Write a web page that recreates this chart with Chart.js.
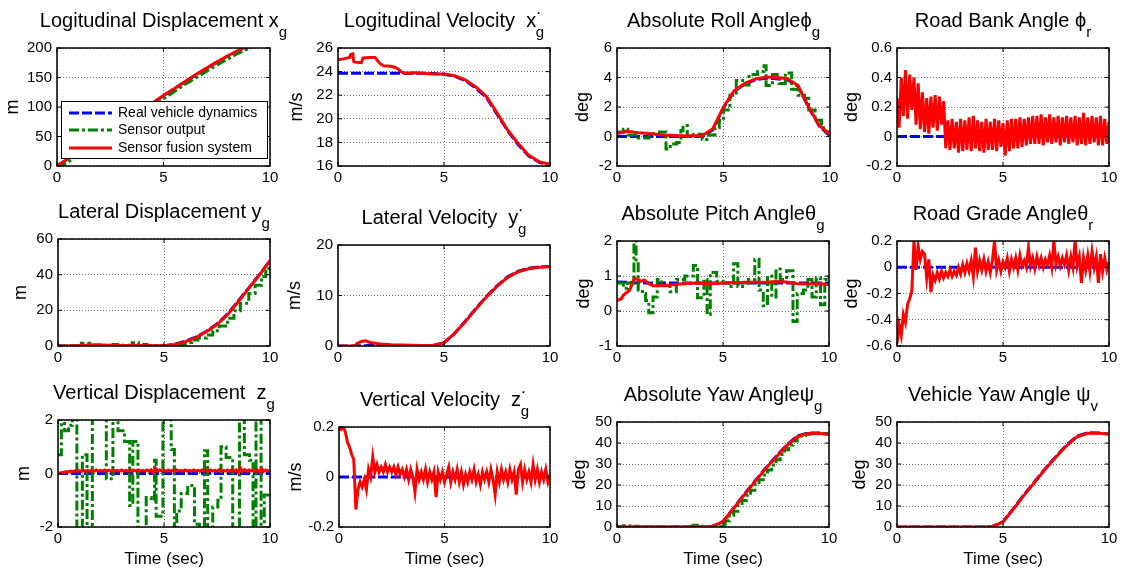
<!DOCTYPE html>
<html>
<head>
<meta charset="utf-8">
<script src="https://cdn.jsdelivr.net/npm/chart.js@4.4.1/dist/chart.umd.min.js"></script>
<style>
body{margin:0;background:#fff;width:1124px;height:574px;overflow:hidden;position:relative;font-family:"Liberation Sans",Arial,sans-serif;color:#000;}
canvas{position:absolute;}
.ttl{position:absolute;font-size:20px;line-height:20px;white-space:pre;transform:translateX(-50%);}
.sb{font-size:15px;position:relative;top:10px;}
.sd{margin-left:-7px;}
#legend{position:absolute;left:61px;top:101px;width:207px;height:58px;box-sizing:border-box;border:1px solid #000;background:#fff;font-size:14px;z-index:5;}
#legend svg{position:absolute;left:0;top:0;}
#legend .it{position:absolute;left:56px;line-height:17px;white-space:nowrap;}
</style>
</head>
<body>

<div id="legend">
<svg width="60" height="56">
<line x1="7" y1="11" x2="50" y2="11" stroke="#0000ff" stroke-width="3" stroke-dasharray="10 3"/>
<line x1="7" y1="28" x2="50" y2="28" stroke="#008000" stroke-width="3" stroke-dasharray="10 3 3 3"/>
<line x1="7" y1="46" x2="50" y2="46" stroke="#ff0000" stroke-width="3"/>
</svg>
<div class="it" style="top:2px">Real vehicle dynamics</div>
<div class="it" style="top:19px">Sensor output</div>
<div class="it" style="top:37px">Sensor fusion system</div>
</div>

<script>
Chart.defaults.animation = false;
Chart.defaults.font.family = '"Liberation Sans", Arial, sans-serif';
Chart.defaults.font.size = 15;
Chart.defaults.color = '#000';

// time bases
const T2 = [0,10];
const T21 = [0,0.5,1,1.5,2,2.5,3,3.5,4,4.5,5,5.5,6,6.5,7,7.5,8,8.5,9,9.5,10];
const T101 = [0,0.1,0.2,0.3,0.4,0.5,0.6,0.7,0.8,0.9,
1,1.1,1.2,1.3,1.4,1.5,1.6,1.7,1.8,1.9,
2,2.1,2.2,2.3,2.4,2.5,2.6,2.7,2.8,2.9,
3,3.1,3.2,3.3,3.4,3.5,3.6,3.7,3.8,3.9,
4,4.1,4.2,4.3,4.4,4.5,4.6,4.7,4.8,4.9,
5,5.1,5.2,5.3,5.4,5.5,5.6,5.7,5.8,5.9,
6,6.1,6.2,6.3,6.4,6.5,6.6,6.7,6.8,6.9,
7,7.1,7.2,7.3,7.4,7.5,7.6,7.7,7.8,7.9,
8,8.1,8.2,8.3,8.4,8.5,8.6,8.7,8.8,8.9,
9,9.1,9.2,9.3,9.4,9.5,9.6,9.7,9.8,9.9,10];

// longitudinal displacement
const xgReal = [0,12,24,36,48,60,71.5,83,95,107,119,131,142.5,154,165,176,186,195,204,212,220];
const xgFusion = [0,12,24,36,48,60,71.5,83.5,95,107,119.5,131,143,154.5,165.5,176,186.5,195.5,204,212,220];
const xgSensor = [-3,6,19,31,43,55,67,78,90,102,114,126,138,149,160,171,181,191,199,208,216];

// longitudinal velocity
const vxReal = [23.85,23.85,23.85,23.85,23.85,23.85,23.85,23.85,23.85,23.83,23.78,23.6,23.25,22.6,21.8,20.4,19.0,17.8,16.85,16.3,16.1];
const vxFusionT = [0,0.3,0.55,0.6,0.7,0.74,0.78,1.1,1.18,1.5,1.75,1.85,2.0,2.15,2.5,2.7,2.85,3.0,3.2,3.6,4,4.4,5,5.5,6,6.5,7,7.5,8,8.5,9,9.5,10];
const vxFusion = [25.0,25.1,25.2,25.45,25.5,24.85,24.8,24.75,25.15,25.2,25.2,24.95,24.65,24.5,24.45,24.35,24.2,23.95,23.85,23.9,23.85,23.8,23.8,23.65,23.3,22.7,21.9,20.5,19.05,17.9,16.9,16.35,16.15];

// absolute roll angle
const rollReal = [0,0,0,0,0,0,0,0,0,0.45,1.95,3.05,3.55,3.85,3.95,3.92,3.85,3.4,1.95,0.7,0.05];
const rollFusion = [0.2,0.35,0.26,0.2,0.12,0.08,0.05,0.05,0.05,0.53,2.0,3.1,3.6,3.9,4.03,4.0,3.92,3.45,2.0,0.75,0.15];
const rollSensorT = [0,0.3,0.5,1.0,1.5,2.0,2.3,2.5,2.8,3.0,3.1,3.3,3.6,4.0,4.3,4.6,4.8,5.0,5.3,5.6,5.9,6.2,6.6,6.9,7.0,7.3,7.6,7.9,8.2,8.5,8.8,9.0,9.3,9.6,9.8,10];
const rollSensor = [0.3,0.5,0.1,-0.1,0.2,0.3,-0.85,-0.5,-0.4,0.4,0.75,0.0,0.15,-0.2,0.1,0.6,1.1,1.8,2.8,3.8,3.5,4.2,4.4,4.8,3.45,4.2,3.6,4.3,3.2,2.8,2.6,1.8,1.1,0.6,0.3,0.0];

// road bank angle
const bankReal = [0,0];
const bankFusion = [0.26,0.06,0.40,0.14,0.45,0.12,0.42,0.18,0.40,0.08,
0.36,0.05,0.30,0.03,0.26,0.02,0.27,0.06,0.28,0.04,
0.27,0.08,0.24,-0.08,0.11,-0.09,0.12,-0.08,0.10,-0.11,
0.12,-0.10,0.11,-0.09,0.13,-0.10,0.14,-0.08,0.11,-0.10,
0.10,-0.11,0.12,-0.09,0.10,-0.09,0.12,-0.10,0.11,-0.07,
0.09,-0.13,0.11,-0.10,0.12,-0.08,0.12,-0.08,0.13,-0.07,
0.12,-0.06,0.13,-0.05,0.14,-0.05,0.14,-0.05,0.15,-0.06,
0.13,-0.04,0.15,-0.05,0.13,-0.04,0.14,-0.06,0.13,-0.04,
0.14,-0.05,0.13,-0.04,0.14,-0.06,0.13,-0.05,0.16,-0.06,
0.13,-0.05,0.14,-0.04,0.13,-0.06,0.14,-0.06,0.12,-0.05,0.10];

// lateral displacement
const ygReal = [0,0,0,0,0,0,0,0,0,0,0.1,0.9,2.6,5.0,8.3,12.4,18.0,25.2,32.6,40.1,48.0];
const ygFusion = [0,0,0.3,0.6,0.5,0.4,0.3,0.3,0.2,0.2,0.2,0.8,2.4,4.7,8.0,12.0,17.6,24.8,32.3,39.8,47.9];
const ygSensorT = [0,0.6,1.1,1.5,2.0,2.6,3.0,3.5,3.8,4.2,5.0,5.5,6.0,6.3,6.6,7.0,7.3,7.6,8.0,8.3,8.6,9.0,9.3,9.6,9.8,10];
const ygSensor = [0,0.3,1.5,0.5,0.3,0.8,0.4,1.8,0.8,0.3,0.3,0.6,2.0,3.3,4.5,6.2,8.5,11.2,15.5,19.8,24,29.5,34,39,43.5,47];

// lateral velocity
const vyReal = [0,0,0.05,0.1,0.1,0.05,0,0,0,0.1,0.6,2.5,4.9,7.4,9.8,11.9,13.7,14.8,15.4,15.65,15.75];
const vyFusionT = [0,0.8,0.9,1.1,1.3,1.5,2,2.5,3,3.5,4,4.5,5,5.5,6,6.5,7,7.5,8,8.5,9,9.5,10];
const vyFusion = [0,0,0.5,0.9,1.05,0.7,0.4,0.25,0.2,0.15,0.1,0.15,0.65,2.5,4.8,7.3,9.7,11.8,13.6,14.7,15.3,15.6,15.7];

// absolute pitch angle
const pitchReal = [0.83,0.82,0.8,0.8,0.8,0.8,0.8,0.8,0.8,0.8,0.8,0.8,0.8,0.8,0.8,0.8,0.8,0.8,0.8,0.8,0.8];
const pitchFusionT = [0,0.2,0.3,0.5,0.6,0.7,0.8,1.0,1.1,1.3,1.5,1.7,2,2.5,3,3.5,4,4.5,5,5.5,6,6.5,7,7.5,8,8.5,9,9.5,10];
const pitchFusion = [0.3,0.35,0.45,0.55,0.6,0.75,0.93,0.9,0.85,0.88,0.78,0.72,0.72,0.74,0.77,0.79,0.8,0.78,0.8,0.81,0.82,0.82,0.82,0.84,0.83,0.78,0.77,0.78,0.76];
const pitchSensorT = [0,0.3,0.5,0.8,0.9,1.0,1.2,1.35,1.5,1.7,1.9,2.1,2.5,2.8,3.2,3.6,3.8,4.1,4.25,4.4,4.7,5.0,5.3,5.5,5.7,6.0,6.2,6.5,6.7,6.9,7.1,7.3,7.5,7.7,8.0,8.3,8.5,8.8,9.0,9.2,9.4,9.6,9.8,10];
const pitchSensor = [0.8,0.65,0.8,2.0,1.4,0.6,0.5,0.3,-0.05,0.4,0.9,0.72,0.55,0.9,1.0,1.3,0.38,0.9,-0.1,1.1,0.85,0.8,0.7,1.35,0.7,0.8,0.9,1.48,0.6,0.15,1.0,0.4,1.2,0.9,1.15,-0.3,0.5,0.6,0.9,0.4,0.95,0.18,0.9,1.0];

// road grade angle
const gradeReal = [0,0];
const gradeFusion = [-0.58,-0.44,-0.52,-0.36,-0.42,-0.28,-0.24,-0.18,0.20,-0.02,
0.16,0.06,0.12,0.10,-0.08,0.06,-0.19,-0.06,-0.10,-0.04,
-0.09,-0.03,-0.08,-0.04,-0.07,-0.02,-0.07,-0.03,-0.06,0.00,
-0.05,0.02,-0.04,0.03,-0.03,0.05,-0.07,0.15,-0.03,0.05,
-0.02,0.06,-0.03,0.04,-0.04,0.05,0.20,-0.02,0.05,-0.03,
0.04,0.00,0.07,-0.03,0.06,0.00,0.07,-0.02,0.09,0.01,
0.05,0.00,0.15,0.01,0.07,-0.01,0.08,0.01,0.07,0.00,
0.06,0.02,0.09,0.00,0.20,0.02,0.08,0.01,0.07,0.02,
0.09,-0.02,0.08,0.00,0.20,0.01,0.08,-0.12,0.07,-0.02,
0.09,-0.03,0.12,0.00,0.08,-0.12,0.10,-0.03,0.07,-0.02,0.04];

// vertical displacement
const zgReal = [0,0];
const zgFusion = [0.00,0.02,0.04,0.05,0.07,0.06,0.09,0.07,0.10,0.08,
0.11,0.08,0.12,0.08,0.12,0.09,0.12,0.08,0.13,0.09,
0.12,0.08,0.13,0.09,0.12,0.08,0.13,0.09,0.12,0.08,
0.13,0.08,0.12,0.09,0.13,0.08,0.12,0.09,0.13,0.08,
0.12,0.09,0.13,0.08,0.14,0.04,0.20,0.08,0.13,0.09,
0.12,0.08,0.13,0.09,0.12,0.08,0.13,0.09,0.12,0.08,
0.13,0.09,0.12,0.08,0.13,0.09,0.12,0.08,0.13,0.09,
0.12,0.08,0.13,0.09,0.12,0.08,0.14,0.08,0.12,0.09,
0.13,0.08,0.14,0.08,0.13,0.03,0.21,0.07,0.14,0.08,
0.13,0.09,0.14,0.08,0.13,0.04,0.19,0.08,0.13,0.09,0.12];
const zgSensorT = [0,0.16,0.31,0.5,0.68,0.89,1.15,1.37,1.62,2.12,2.28,2.59,2.83,3.14,3.38,3.53,3.77,4.16,4.4,4.55,4.63,4.95,5.34,5.49,5.6,5.81,6.12,6.44,6.67,6.91,7.06,7.3,7.54,7.69,7.93,8.24,8.56,8.79,9.03,9.2,9.34,9.58,9.73,10];
const zgSensor = [0.7,2.5,1.6,1.8,2.5,-2.5,0.7,-2.5,2.5,2.5,-0.2,2.5,1.6,1.2,-1.2,1.2,-2.5,-0.9,-1.0,0.5,-1.6,2.5,0.9,-2.5,-1.4,-0.75,-0.45,-1.9,-2.5,0.85,-2.1,-1.25,-1.0,1.0,0.6,-2.5,2.5,0.7,0.5,-2.5,2.5,-2.5,-0.8,-0.8];

// vertical velocity
const vzReal = [0,0];
const vzFusion = [0.20,0.19,0.20,0.18,0.14,0.12,0.09,0.07,-0.13,-0.05,
-0.02,-0.04,-0.01,-0.05,0.03,0.00,0.08,0.02,0.05,0.02,
0.04,0.02,0.05,0.02,0.04,0.02,0.04,0.01,0.04,0.01,
0.03,0.00,0.03,-0.01,0.03,0.00,-0.06,0.03,-0.01,0.02,
-0.01,0.03,-0.02,0.02,-0.01,0.02,-0.08,0.02,-0.01,0.02,
-0.02,0.01,0.04,-0.02,0.02,-0.01,0.03,-0.02,0.02,-0.03,
0.01,-0.02,0.02,-0.01,0.03,-0.02,0.01,-0.03,0.02,-0.01,
0.02,-0.02,0.03,-0.01,-0.07,0.02,-0.02,0.03,-0.01,0.02,
-0.02,0.03,-0.01,0.02,-0.07,0.03,0.05,-0.02,0.03,-0.01,
0.02,-0.02,0.05,-0.01,0.03,-0.02,0.02,-0.01,0.03,-0.02,0.01];

// absolute yaw angle
const yawgReal = [0,0,0,0,0,0,0,0,0,0.3,2.6,9.0,15.6,21.8,27.9,33.6,39.0,43.3,44.8,44.8,44.3];
const yawgFusion = [0,0,0,0,0,0,0,0,0,0.3,2.5,8.8,15.3,21.5,27.6,33.2,38.6,42.9,44.5,44.6,44.1];
const yawgSensorT = [0,0.3,0.6,1,2,3,3.3,3.6,3.9,4.2,4.6,4.9,5.1,5.3,5.5,5.7,5.9,6.1,6.3,6.5,6.7,6.9,7.1,7.3,7.5,7.7,7.9,8.1,8.3,8.5,8.7,8.9,9.1,9.5,10];
const yawgSensor = [0,0.6,0.3,0,0,0,0.4,0.8,0.3,0.2,0.4,1.2,3.0,5.5,7.5,10.3,12.6,15,17.5,20.1,22.5,24.8,27.2,29.5,32,34.5,36.8,39,41,42.5,43.6,44.2,44.4,44.4,44.2];

// vehicle yaw angle
const yawvReal = [0,0,0,0,0,0,0,0,0,0.25,2.5,8.9,15.5,21.7,27.9,33.6,39.0,43.3,44.9,44.8,44.3];
const yawvFusion = [0,0,0,0,0,0,0,0,0,0.2,2.4,8.7,15.2,21.4,27.6,33.3,38.7,43.0,44.6,44.7,44.2];

function pts(t, v){
return t.map((x, i) => ({x: x, y: v[i]}));
}

function real(t, v){
return {label:"Real vehicle dynamics", data:pts(t, v), borderColor:"#0000ff", borderWidth:3, borderDash:[10,3], pointRadius:0, clip:0, order:2};
}

function sensor(t, v, step){
return {label:"Sensor output", data:pts(t, v), borderColor:"#008000", borderWidth:3, borderDash:[10,3,3,3], stepped:step, pointRadius:0, clip:0, order:1};
}

function fusion(t, v){
return {label:"Sensor fusion system", data:pts(t, v), borderColor:"#ff0000", borderWidth:3, pointRadius:0, clip:0, order:0};
}

// axes box with inward tick marks
const boxPlugin = {
id:"box",
afterDraw(chart){
const ctx = chart.ctx;
const a = chart.chartArea;
const sx = chart.scales.x;
const sy = chart.scales.y;
ctx.save();
ctx.strokeStyle = "#000";
ctx.lineWidth = 1;
ctx.beginPath();
sx.ticks.forEach(t => {
const p = sx.getPixelForValue(t.value);
ctx.moveTo(p, a.bottom); ctx.lineTo(p, a.bottom - 4);
ctx.moveTo(p, a.top); ctx.lineTo(p, a.top + 4);
});
sy.ticks.forEach(t => {
const p = sy.getPixelForValue(t.value);
ctx.moveTo(a.left, p); ctx.lineTo(a.left + 4, p);
ctx.moveTo(a.right, p); ctx.lineTo(a.right - 4, p);
});
ctx.stroke();
ctx.lineWidth = 1.5;
ctx.strokeRect(a.left, a.top, a.right - a.left, a.bottom - a.top);
ctx.restore();
}
};

function panel(p){
const pt = 14, pr = 14;
const xh = p.time ? 47 : 30;
const w = p.yw + p.r - p.l + pr;
const h = pt + p.b - p.t + xh;
const c = document.createElement("canvas");
c.width = w; c.height = h;
c.style.left = (p.l - p.yw) + "px";
c.style.top = (p.t - pt) + "px";
c.style.width = w + "px";
c.style.height = h + "px";
document.body.appendChild(c);

const grid = {color:"rgba(0,0,0,0.55)", lineWidth:1, drawTicks:false};
const border = {display:false, dash:[1,2]};

new Chart(c, {
type:"line",
data:{datasets:p.sets},
options:{
responsive:false,
devicePixelRatio:1,
layout:{padding:{top:pt, right:pr, left:0, bottom:0}},
plugins:{legend:{display:false}, tooltip:{enabled:false}},
elements:{line:{tension:0}},
scales:{
x:{
type:"linear", min:0, max:10,
ticks:{stepSize:5, padding:3},
grid:grid, border:border,
title:{display:!!p.time, text:"Time (sec)", font:{size:17}, padding:{top:2, bottom:4}},
afterFit:s => { s.height = xh; }
},
y:{
min:p.min, max:p.max,
ticks:{stepSize:p.step, padding:5},
grid:grid, border:border,
title:{display:true, text:p.ylabel, font:{size:18}, padding:{top:3, bottom:3}},
afterFit:s => { s.width = p.yw; }
}
}
},
plugins:[boxPlugin]
});

const d = document.createElement("div");
d.className = "ttl";
d.innerHTML = p.title;
d.style.left = ((p.l + p.r) / 2) + "px";
d.style.top = (p.t - 38) + "px";
document.body.appendChild(d);
}

const dotg = '<span>\u02D9</span><span class="sb sd">g</span>';

panel({title:'Logitudinal Displacement x<span class="sb">g</span>', l:57, t:48, r:270, b:166, yw:58, ylabel:"m", min:0, max:200, step:50,
sets:[fusion(T21, xgFusion), sensor(T21, xgSensor, false), real(T21, xgReal)]});
panel({title:'Logitudinal Velocity  x' + dotg, l:338, t:48, r:550, b:166, yw:55, ylabel:"m/s", min:16, max:26, step:2,
sets:[fusion(vxFusionT, vxFusion), real(T21, vxReal)]});
panel({title:'Absolute Roll Angle\u03D5<span class="sb">g</span>', l:617, t:48, r:830, b:166, yw:48, ylabel:"deg", min:-2, max:6, step:2,
sets:[fusion(T21, rollFusion), sensor(rollSensorT, rollSensor, true), real(T21, rollReal)]});
panel({title:'Road Bank Angle \u03D5<span class="sb">r</span>', l:897, t:48, r:1109, b:166, yw:59, ylabel:"deg", min:-0.2, max:0.6, step:0.2,
sets:[fusion(T101, bankFusion), real(T2, bankReal)]});

panel({title:'Lateral Displacement y<span class="sb">g</span>', l:58, t:239, r:270, b:346, yw:51, ylabel:"m", min:0, max:60, step:20,
sets:[fusion(T21, ygFusion), sensor(ygSensorT, ygSensor, true), real(T21, ygReal)]});
panel({title:'Lateral Velocity  y' + dotg, l:338, t:245, r:550, b:346, yw:57, ylabel:"m/s", min:0, max:20, step:10,
sets:[fusion(vyFusionT, vyFusion), real(T21, vyReal)]});
panel({title:'Absolute Pitch Angle\u03B8<span class="sb">g</span>', l:617, t:241, r:829, b:346, yw:47, ylabel:"deg", min:-1, max:2, step:1,
sets:[fusion(pitchFusionT, pitchFusion), sensor(pitchSensorT, pitchSensor, true), real(T21, pitchReal)]});
panel({title:'Road Grade Angle\u03B8<span class="sb">r</span>', l:897, t:241, r:1109, b:346, yw:59, ylabel:"deg", min:-0.6, max:0.2, step:0.2,
sets:[fusion(T101, gradeFusion), real(T2, gradeReal)]});

panel({title:'Vertical Displacement  z<span class="sb">g</span>', l:58, t:420, r:270, b:527, yw:48, ylabel:"m", min:-2, max:2, step:2, time:true,
sets:[fusion(T101, zgFusion), sensor(zgSensorT, zgSensor, true), real(T2, zgReal)]});
panel({title:'Vertical Velocity  z' + dotg, l:339, t:427, r:550, b:527, yw:57, ylabel:"m/s", min:-0.2, max:0.2, step:0.2, time:true,
sets:[fusion(T101, vzFusion), real(T2, vzReal)]});
panel({title:'Absolute Yaw Angle\u03C8<span class="sb">g</span>', l:617, t:422, r:829, b:527, yw:51, ylabel:"deg", min:0, max:50, step:10, time:true,
sets:[fusion(T21, yawgFusion), sensor(yawgSensorT, yawgSensor, true), real(T21, yawgReal)]});
panel({title:'Vehicle Yaw Angle \u03C8<span class="sb">v</span>', l:897, t:422, r:1109, b:527, yw:51, ylabel:"deg", min:0, max:50, step:10, time:true,
sets:[fusion(T21, yawvFusion), real(T21, yawvReal)]});
</script>
</body>
</html>
